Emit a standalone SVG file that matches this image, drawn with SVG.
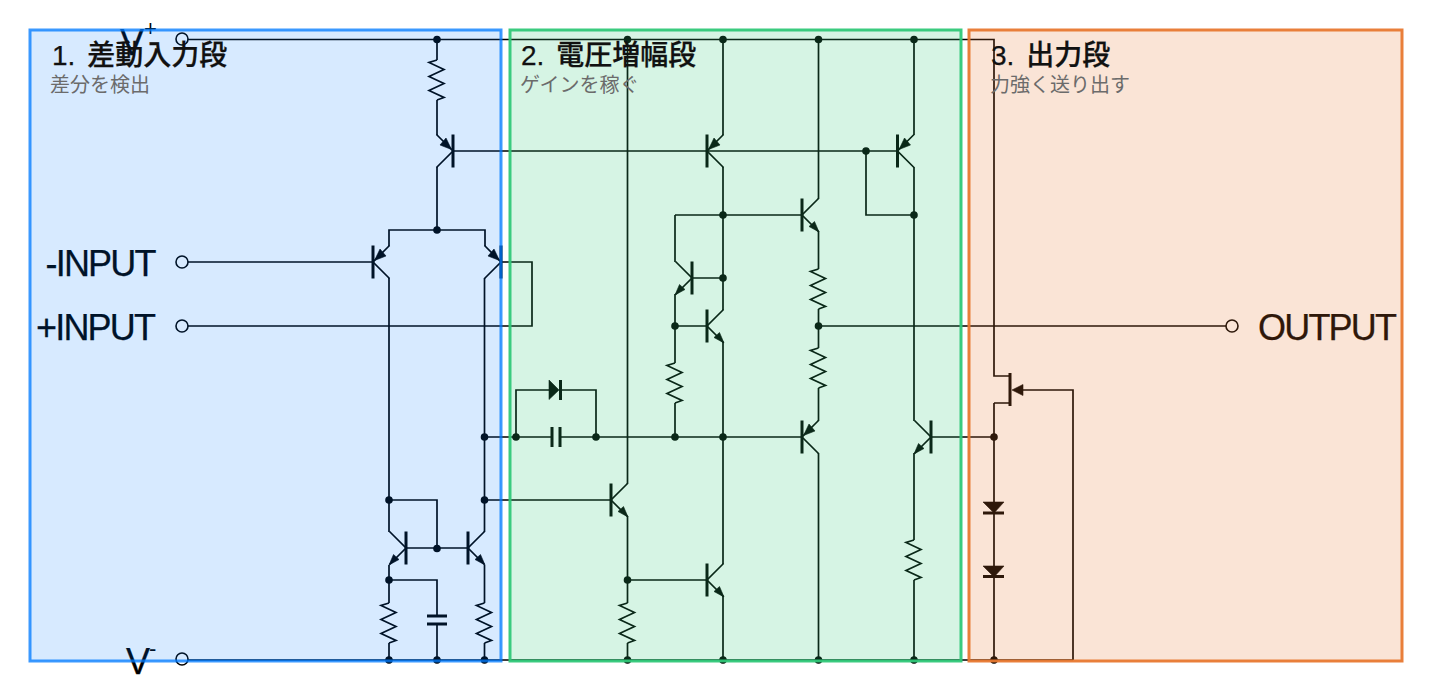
<svg xmlns="http://www.w3.org/2000/svg" width="1434" height="698" viewBox="0 0 1434 698">
<style>
.w{fill:none;stroke:#000;stroke-width:1.7}
.b{fill:none;stroke:#000;stroke-width:3}
.a{fill:#000;stroke:#000;stroke-width:.6}
.n{fill:#000}
.t{fill:none;stroke:#000;stroke-width:1.6}
.l{font-family:"Liberation Sans",Arial,sans-serif;font-size:36px;letter-spacing:-1.8px;fill:#000;stroke:#000;stroke-width:.25}
.s{font-family:"Liberation Sans",Arial,sans-serif;font-size:22px;fill:#000}
.h{font-family:"Liberation Sans","Noto Sans CJK JP",sans-serif;font-size:28px;font-weight:500;word-spacing:4px;fill:#111;stroke:#111;stroke-width:.25}
.u{font-family:"Noto Sans CJK JP",sans-serif;font-size:20px;fill:#6b6b6b}
</style>
<defs>
<g id="tA"><path class="b" d="M0-16.500V16.500"/><path class="w" d="M16.500-16.500L0 0L16.500 16.500"/><path class="a" d="M17 17L7 11.500L12.500 6.500Z"/></g>
<g id="tB"><path class="b" d="M0-16.500V16.500"/><path class="w" d="M16.500-16.500L0 0L16.500 16.500"/><path class="a" d="M1.500-1.500L13-6L7-13Z"/></g>
<path id="r" class="w" d="M0 0L-8 2.500L7 9.500L-8 16.500L7 23.500L-8 30.500L7 37.500L0 40"/>
</defs>
<g id="connectors">
<path class="w" d="M188 39.500H994V376H1010M994 403H1010M994 403V660M1023 390H1073V660M188 660H1073"/>
<path class="w" d="M437 39.500V60M437 100V135M437 167V230M389 246V230H485V246"/>
<path class="w" d="M188 262H373M501 262H532V326H188M389 278V532M484.500 278V532M389 500H437V548M406 548H468"/>
<path class="w" d="M389 565V603M389 643V660M389 580H437V616M437 624V660M484.500 565V603M484.500 643V660"/>
<path class="w" d="M484.500 437H552M560 437H802M516 437V390H549M561 390H596V437"/>
<path class="w" d="M484.500 500H611M627.500 39.500V484M627.500 516V603M627.500 643V660M627.500 580H707M723 596V660"/>
<path class="w" d="M453 151H897M723 39.500V135M723 167V310M723 342V564M914 39.500V135M914 167V421M866 151V215H914"/>
<path class="w" d="M675 215H802M675 215V262M675 294V363M675 403V437M675 326H707M692 278H723"/>
<path class="w" d="M818.500 39.500V199M818.500 231V269M818.500 309V348M818.500 388V421M818.500 453V660M818.500 326H1226"/>
<path class="w" d="M931 437H994M914 453V540M914 580V660"/>
</g>
<g id="V-plus"><circle class="t" cx="182" cy="39" r="6"/><text class="l" x="120" y="55">V</text><text class="s" x="144" y="35.500">+</text></g>
<g id="V-minus"><circle class="t" cx="182" cy="659" r="6"/><text class="l" x="126" y="674">V</text><text class="s" x="149" y="656">-</text></g>
<g id="in-minus"><circle class="t" cx="182" cy="262" r="6"/><text class="l" x="45.500" y="275.500">-INPUT</text></g>
<g id="in-plus"><circle class="t" cx="182" cy="326" r="6"/><text class="l" x="36" y="339.500">+INPUT</text></g>
<g id="out"><circle class="t" cx="1232" cy="326" r="6"/><text class="l" x="1258" y="340">OUTPUT</text></g>
<g id="Q1"><use href="#tB" transform="translate(453 151) scale(-1 1)"/></g>
<g id="Q2"><use href="#tB" transform="translate(373 262)"/></g>
<g id="Q3"><use href="#tB" transform="translate(501 262) scale(-1 1)"/></g>
<g id="Q4"><use href="#tA" transform="translate(406 548) scale(-1 1)"/></g>
<g id="Q5"><use href="#tA" transform="translate(468 548)"/></g>
<g id="Q6"><use href="#tA" transform="translate(611 500)"/></g>
<g id="Q7"><use href="#tA" transform="translate(707 580)"/></g>
<g id="Q8"><use href="#tB" transform="translate(707 151)"/></g>
<g id="Q9"><use href="#tB" transform="translate(897.500 151)"/></g>
<g id="Q10"><use href="#tA" transform="translate(802 215)"/></g>
<g id="Q11"><use href="#tA" transform="translate(692 278) scale(-1 1)"/></g>
<g id="Q12"><use href="#tA" transform="translate(707 326)"/></g>
<g id="Q13"><use href="#tB" transform="translate(802 437)"/></g>
<g id="Q14"><use href="#tA" transform="translate(931 437) scale(-1 1)"/></g>
<g id="J1"><path class="b" d="M1010 373V406"/><path class="a" d="M1012 390L1023 384.500V395.500Z"/></g>
<g id="R1"><use href="#r" x="437" y="60"/></g>
<g id="R2"><use href="#r" x="389" y="603"/></g>
<g id="R3"><use href="#r" x="484.500" y="603"/></g>
<g id="R4"><use href="#r" x="627.500" y="603"/></g>
<g id="R5"><use href="#r" x="675" y="363"/></g>
<g id="R6"><use href="#r" x="818.500" y="269"/></g>
<g id="R7"><use href="#r" x="818.500" y="348"/></g>
<g id="R8"><use href="#r" x="914" y="540"/></g>
<g id="C1"><path class="b" d="M427 616H447M427 624H447"/></g>
<g id="C2"><path class="b" d="M552 427V447M560 427V447"/></g>
<g id="D1"><path class="a" d="M549 380L559 390L549 399.500Z"/><path class="b" d="M560.500 380V400"/></g>
<g id="D2"><path class="a" d="M983 502H1004L994 513Z"/><path class="b" d="M983 513H1004"/></g>
<g id="D3"><path class="a" d="M983 566H1004L994 577Z"/><path class="b" d="M983 576.500H1004"/></g>
<g id="nodes">
<circle class="n" cx="437" cy="39.500" r="3.800"/><circle class="n" cx="627.500" cy="39.500" r="3.800"/><circle class="n" cx="723" cy="39.500" r="3.800"/><circle class="n" cx="818.500" cy="39.500" r="3.800"/><circle class="n" cx="914" cy="39.500" r="3.800"/>
<circle class="n" cx="437" cy="230" r="3.800"/><circle class="n" cx="866" cy="151" r="3.800"/><circle class="n" cx="723" cy="215" r="3.800"/><circle class="n" cx="914" cy="215" r="3.800"/><circle class="n" cx="723" cy="278" r="3.800"/><circle class="n" cx="675" cy="326" r="3.800"/><circle class="n" cx="818.500" cy="326" r="3.800"/>
<circle class="n" cx="484.500" cy="437" r="3.800"/><circle class="n" cx="516" cy="437" r="3.800"/><circle class="n" cx="596" cy="437" r="3.800"/><circle class="n" cx="675" cy="437" r="3.800"/><circle class="n" cx="723" cy="437" r="3.800"/><circle class="n" cx="994" cy="437" r="3.800"/>
<circle class="n" cx="389" cy="500" r="3.800"/><circle class="n" cx="484.500" cy="500" r="3.800"/><circle class="n" cx="437" cy="548.500" r="3.800"/><circle class="n" cx="389" cy="580" r="3.800"/><circle class="n" cx="627.500" cy="580" r="3.800"/>
<circle class="n" cx="389" cy="660" r="3.800"/><circle class="n" cx="437" cy="660" r="3.800"/><circle class="n" cx="484.500" cy="660" r="3.800"/><circle class="n" cx="627.500" cy="660" r="3.800"/><circle class="n" cx="723" cy="660" r="3.800"/><circle class="n" cx="818.500" cy="660" r="3.800"/><circle class="n" cx="914" cy="660" r="3.800"/><circle class="n" cx="994" cy="660" r="3.800"/>
</g>
<g id="stage1"><rect x="30" y="30" width="471" height="631" fill="#007aff" fill-opacity=".155" stroke="#007aff" stroke-opacity=".77" stroke-width="3"/><text class="h" x="52" y="65">1. 差動入力段</text><text class="u" x="50" y="92">差分を検出</text></g>
<g id="stage2"><rect x="510" y="30" width="451" height="631" fill="#30c878" fill-opacity=".2" stroke="#30c878" stroke-opacity=".95" stroke-width="3"/><text class="h" x="521" y="65">2. 電圧増幅段</text><text class="u" x="520" y="92">ゲインを稼ぐ</text></g>
<g id="stage3"><rect x="969" y="30" width="433" height="631" fill="#e87830" fill-opacity=".2" stroke="#e87830" stroke-opacity=".95" stroke-width="3"/><text class="h" x="991" y="65">3. 出力段</text><text class="u" x="990" y="92">力強く送り出す</text></g>
</svg>
